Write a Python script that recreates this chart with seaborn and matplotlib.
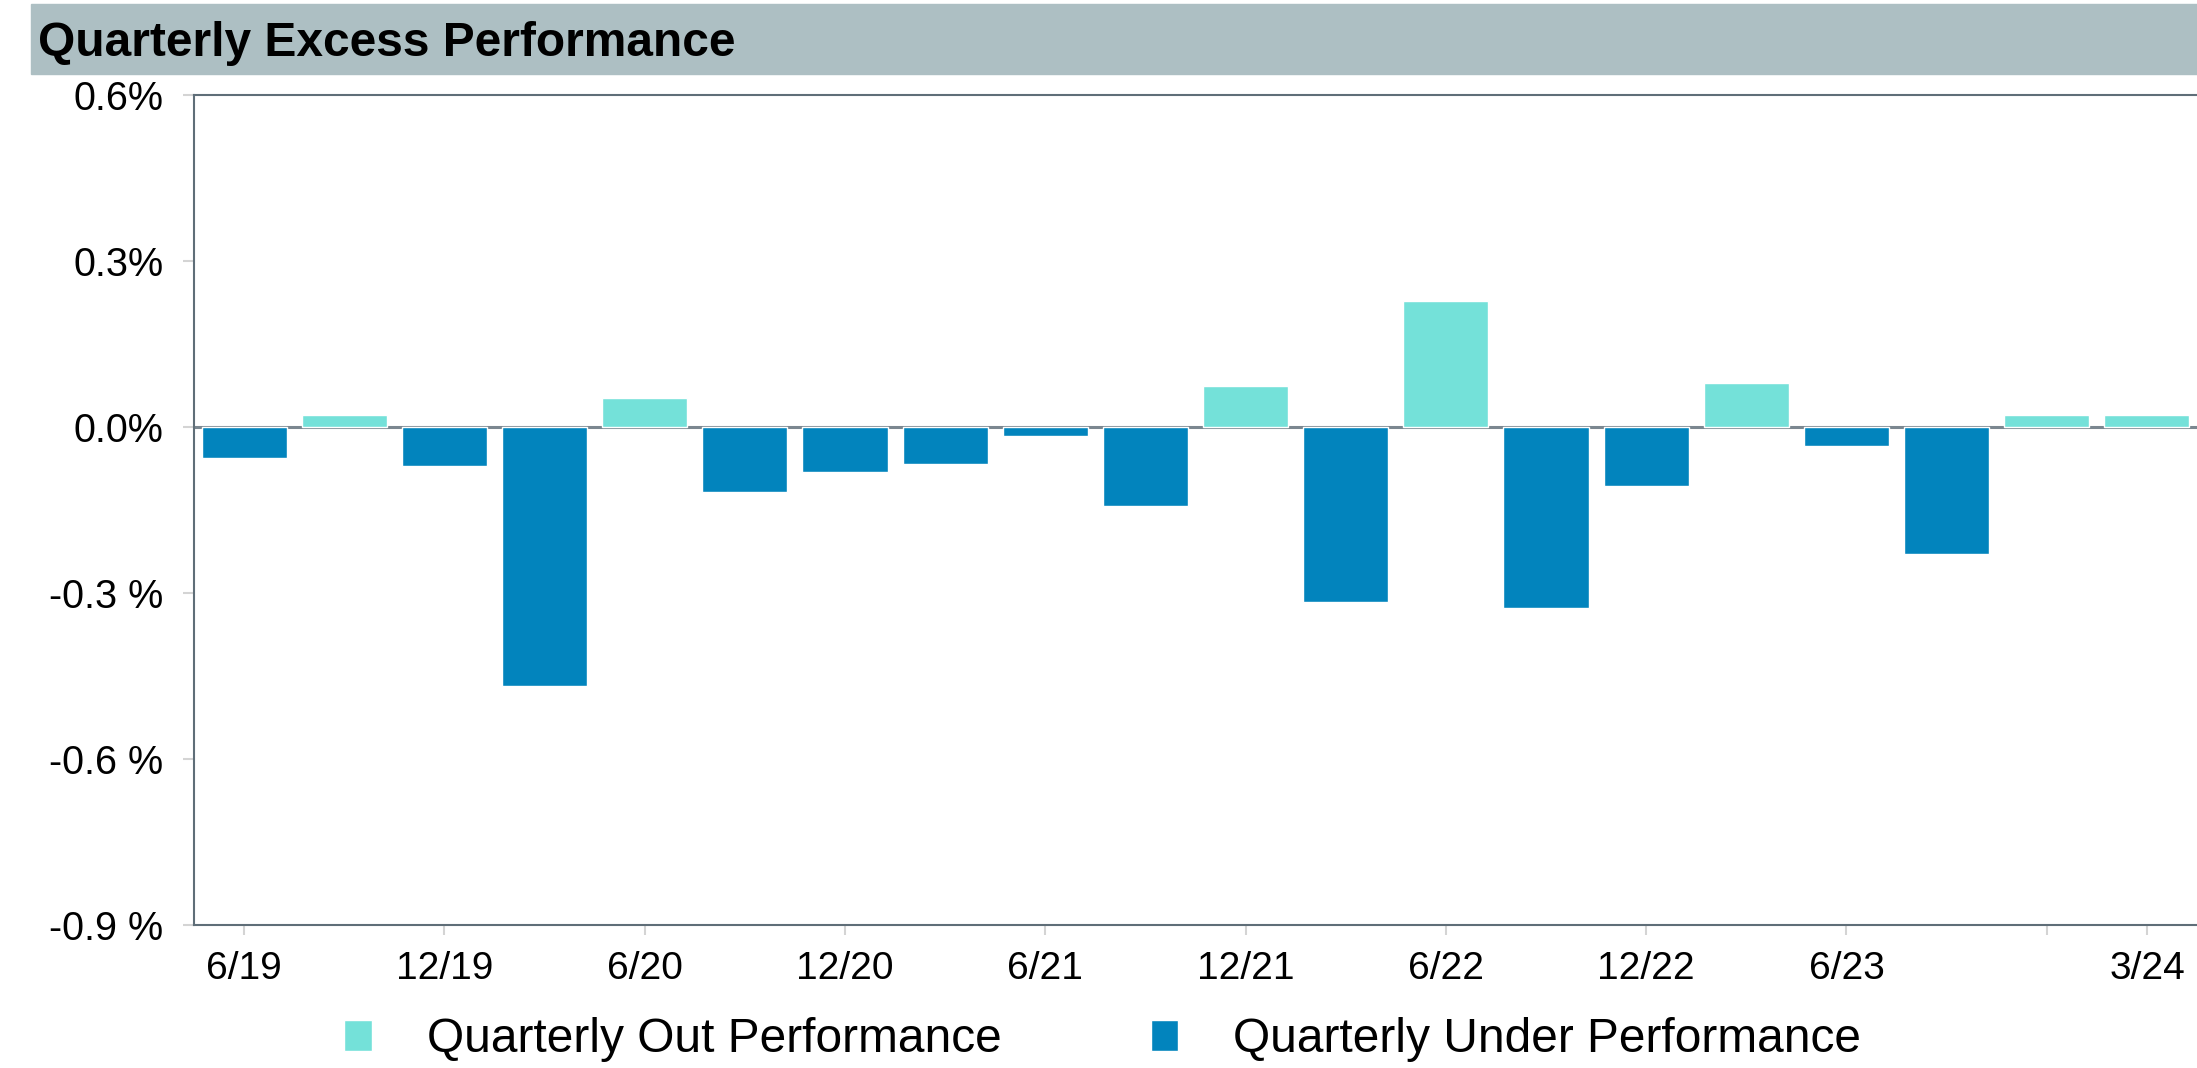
import matplotlib
matplotlib.use('Agg')
import matplotlib.pyplot as plt
import seaborn as sns
import pandas as pd
from matplotlib.patches import Rectangle

# quarterly excess return, in percent
quarters = ['6/19', '9/19', '12/19', '3/20', '6/20', '9/20', '12/20', '3/21', '6/21', '9/21',
            '12/21', '3/22', '6/22', '9/22', '12/22', '3/23', '6/23', '9/23', '12/23', '3/24']
excess = [-0.056, 0.021, -0.070, -0.468, 0.053, -0.118, -0.081, -0.067, -0.016, -0.143,
          0.075, -0.316, 0.228, -0.327, -0.107, 0.079, -0.034, -0.230, 0.021, 0.021]

series_names = ['Quarterly Out Performance', 'Quarterly Under Performance']
series_colors = ['#74e1d9', '#0284bd']

tick_quarters = ['6/19', '12/19', '6/20', '12/20', '6/21', '12/21', '6/22', '12/22', '6/23', '12/23', '3/24']
tick_labels = ['6/19', '12/19', '6/20', '12/20', '6/21', '12/21', '6/22', '12/22', '6/23', '', '3/24']
y_ticks = [-0.9, -0.6, -0.3, 0.0, 0.3, 0.6]
y_labels = ['-0.9 %', '-0.6 %', '-0.3 %', '0.0%', '0.3%', '0.6%']

df = pd.DataFrame({'quarter': quarters, 'excess': excess})
df['kind'] = [series_names[0] if v >= 0 else series_names[1] for v in excess]

sns.set_style('white')
plt.rcParams['font.family'] = ['Liberation Sans', 'DejaVu Sans']
plt.rcParams['text.color'] = 'black'

W, H = 2197, 1068
fig = plt.figure(figsize=(W / 100, H / 100), dpi=100)
ax = fig.add_axes([194 / W, 1 - 925 / H, 1 - 194 / W, (925 - 95) / H])

sns.barplot(data=df, x='quarter', y='excess', hue='kind', hue_order=series_names,
            order=quarters, palette=series_colors, dodge=False, width=0.85,
            saturation=1, ax=ax)

# zero line
ax.axhline(0, color='#7b8790', lw=2.2, zorder=0.9)

ax.set_xlim(-0.5, 19.5)
ax.set_ylim(-0.9, 0.6)
ax.set_xticks([quarters.index(q) for q in tick_quarters], tick_labels)
ax.set_yticks(y_ticks, y_labels)
ax.set_xlabel('')
ax.set_ylabel('')
ax.tick_params(axis='x', labelsize=28, color='#d4d4d4', labelcolor='black',
               length=7, width=1.5, pad=12, bottom=True)
ax.tick_params(axis='y', labelsize=28.5, color='#d4d4d4', labelcolor='black',
               length=8, width=1.5, pad=14, left=True)

for side in ['left', 'top', 'bottom']:
    ax.spines[side].set_color('#5f6e78')
    ax.spines[side].set_linewidth(1.5)
ax.spines['right'].set_visible(False)

# title band
fig.add_artist(Rectangle((31 / W, 1 - 74 / H), 1 - 31 / W, 70 / H,
                         transform=fig.transFigure, color='#adbfc3', zorder=0))
fig.text(38 / W, 1 - 56 / H, 'Quarterly Excess Performance', fontsize=34.5,
         fontweight='bold', va='baseline', color='black')

# legend under the axis
handles, labels = ax.get_legend_handles_labels()
ax.get_legend().remove()
fig.legend(handles, labels, loc='center', bbox_to_anchor=(0.502, 1 - 1040 / H),
           ncol=2, frameon=False, fontsize=34.5, borderpad=0, borderaxespad=0,
           handlelength=0.58, handleheight=0.6, handletextpad=1.15, columnspacing=3.1)

fig.savefig('out.png', dpi=100)
